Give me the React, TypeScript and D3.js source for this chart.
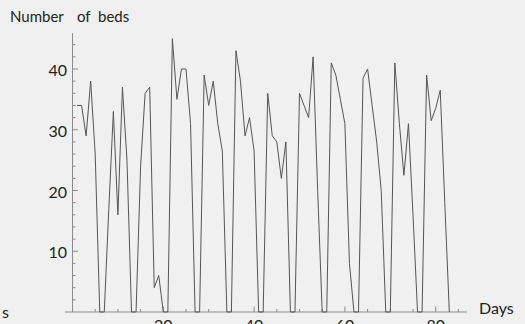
import React from 'react';
import * as d3 from 'd3';

// beds in use per day, starting at day 1 (weekends are the zero pairs)
const firstDay = 1;
const beds = [
  34, 34, 29, 38, 26, 0, 0,
  17, 33, 16, 37, 25, 0, 0,
  24, 36, 37, 4, 6, 0, 0,
  45, 35, 40, 40, 31, 0, 0,
  39, 34, 38, 31, 26.5, 0, 0,
  43, 38, 29, 32, 26.5, 0, 0,
  36, 29, 28, 22, 28, 0, 0,
  36, 34, 32, 42, 20, 0, 0,
  41, 39, 35, 31, 8, 0, 0,
  38.5, 40, 34, 28, 20, 0, 0,
  41, 31, 22.5, 31, 16, 0, 0,
  39, 31.5, 33.5, 36.5, 18, 0,
];

const xTickLabels = [20, 40, 60, 80];
const yTickLabels = [10, 20, 30, 40];
const xLabel = 'Days';
const yLabelWords = ['Number', 'of', 'beds'];

const W = 525, H = 324;
const font = 'Lato, "Open Sans", sans-serif';

export default function App() {
  const x = d3.scaleLinear().domain([0, 80]).range([72.5, 435.7]);
  const y = d3.scaleLinear().domain([0, 40]).range([312, 69]);

  const xMin = -1.65, xMax = 86.9, yMax = 45.9;
  const xMinor = d3.range(5, 86, 5).filter(v => !xTickLabels.includes(v));
  const yMinor = d3.range(2, 46, 2).filter(v => !yTickLabels.includes(v));

  const line = d3.line<number>()
    .x((_, i) => x(firstDay + i))
    .y(d => y(d));

  const axisColor = '#8c8c8c';

  return (
    <svg width={W} height={H} style={{ position: 'fixed', left: 0, top: 0, background: '#f0f0f0' }}>
      {/* axes */}
      <line x1={x(xMin)} x2={x(xMax)} y1={y(0)} y2={y(0)} stroke={axisColor} strokeWidth={1} />
      <line x1={x(0)} x2={x(0)} y1={y(0)} y2={y(yMax)} stroke={axisColor} strokeWidth={1} />

      {xMinor.map(v => (
        <line key={'xm' + v} x1={x(v)} x2={x(v)} y1={y(0)} y2={y(0) - 3} stroke={axisColor} />
      ))}
      {xTickLabels.map(v => (
        <g key={'x' + v}>
          <line x1={x(v)} x2={x(v)} y1={y(0)} y2={y(0) - 5.5} stroke={axisColor} />
          <text x={x(v)} y={330.5} textAnchor="middle" fontFamily={font} fontSize={16} fill="#222">{v}</text>
        </g>
      ))}

      {yMinor.map(v => (
        <line key={'ym' + v} x1={x(0)} x2={x(0) + 3} y1={y(v)} y2={y(v)} stroke={axisColor} />
      ))}
      {yTickLabels.map(v => (
        <g key={'y' + v}>
          <line x1={x(0)} x2={x(0) + 5.5} y1={y(v)} y2={y(v)} stroke={axisColor} />
          <text x={67} y={y(v) + 7} textAnchor="end" fontFamily={font} fontSize={16} fill="#222">{v}</text>
        </g>
      ))}

      <path d={line(beds) ?? ''} fill="none" stroke="#555" strokeWidth={1} strokeLinejoin="miter" />

      <text y={22} fontFamily={font} fontSize={15} fill="#222">
        <tspan x={10}>{yLabelWords[0]}</tspan>
        <tspan x={77}>{yLabelWords[1]}</tspan>
        <tspan x={98}>{yLabelWords[2]}</tspan>
      </text>
      <text x={479} y={313.5} fontFamily={font} fontSize={16} fill="#222">{xLabel}</text>
      <text x={2} y={318.3} fontFamily={font} fontSize={16} fill="#222">s</text>
    </svg>
  );
}
